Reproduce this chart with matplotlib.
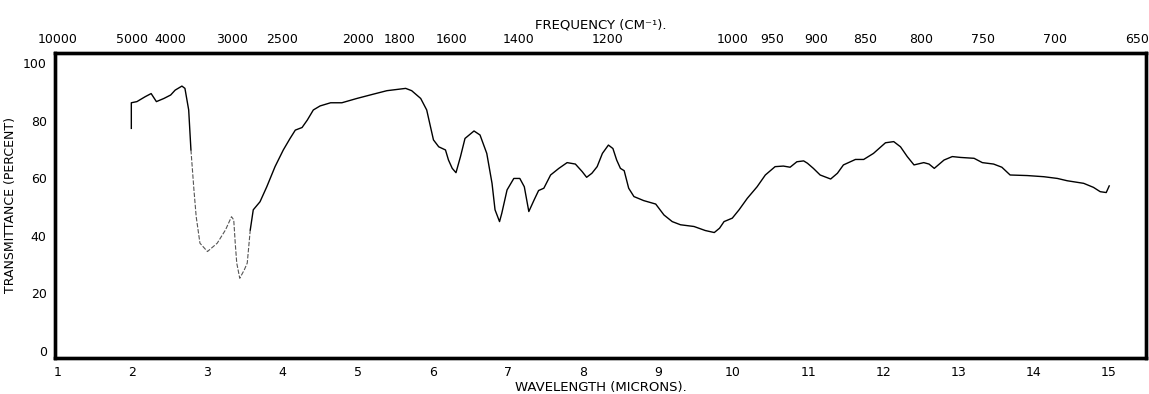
import matplotlib
matplotlib.use("Agg")
import matplotlib.pyplot as plt

# Wavelength (microns) and transmittance (percent)
wavelength = [1.986, 1.986, 2.06, 2.17, 2.25, 2.32, 2.42, 2.51, 2.57, 2.66, 2.70,
              2.75, 2.78, 2.82, 2.85, 2.90, 3.00, 3.13, 3.24, 3.32, 3.35, 3.37,
              3.39, 3.43, 3.49, 3.53, 3.57, 3.61, 3.70, 3.79, 3.90, 4.01, 4.10,
              4.17, 4.26, 4.33, 4.41, 4.50, 4.64, 4.79, 4.99, 5.21, 5.39, 5.64,
              5.72, 5.84, 5.92, 5.97, 6.01, 6.08, 6.17, 6.21, 6.26, 6.31, 6.37,
              6.43, 6.55, 6.63, 6.72, 6.79, 6.83, 6.89, 6.92, 6.99, 7.08, 7.16,
              7.22, 7.28, 7.35, 7.41, 7.48, 7.57, 7.68, 7.79, 7.90, 7.99, 8.05,
              8.12, 8.19, 8.26, 8.34, 8.40, 8.45, 8.50, 8.55, 8.61, 8.68, 8.81,
              8.97, 9.08, 9.19, 9.30, 9.48, 9.63, 9.75, 9.82, 9.88, 9.99, 10.08,
              10.19, 10.32, 10.43, 10.56, 10.67, 10.76, 10.85, 10.94, 10.99,
              11.07, 11.16, 11.30, 11.39, 11.47, 11.63, 11.74, 11.87, 12.03,
              12.14, 12.23, 12.32, 12.41, 12.54, 12.61, 12.68, 12.81, 12.92,
              13.03, 13.21, 13.32, 13.47, 13.58, 13.69, 13.92, 14.14, 14.32,
              14.45, 14.67, 14.80, 14.89, 14.97, 15.01]
transmittance = [77.3, 86.2, 86.6, 88.3, 89.4, 86.6, 87.7, 88.9, 90.6, 92.0, 91.2,
                 83.7, 69.8, 55.9, 46.6, 37.4, 34.5, 37.4, 42.0, 46.6, 45.5, 37.4,
                 30.5, 25.2, 28.1, 30.5, 42.0, 49.0, 51.8, 57.0, 64.0, 69.8, 73.8,
                 76.7, 77.6, 80.2, 83.7, 85.1, 86.2, 86.2, 87.7, 89.2, 90.4, 91.2,
                 90.4, 87.7, 83.7, 77.9, 73.3, 70.9, 69.8, 66.3, 63.4, 61.9, 67.5,
                 73.8, 76.4, 75.0, 68.6, 58.2, 49.0, 44.9, 47.8, 55.9, 59.9, 59.9,
                 57.0, 48.4, 52.4, 55.7, 56.5, 61.1, 63.4, 65.4, 64.9, 62.3, 60.3,
                 61.7, 64.0, 68.6, 71.5, 70.3, 66.3, 63.4, 62.6, 56.5, 53.6, 52.2,
                 51.0, 47.2, 44.9, 43.8, 43.2, 41.8, 41.1, 42.6, 44.9, 46.1, 49.0,
                 53.0, 57.0, 61.1, 64.0, 64.2, 63.8, 65.7, 66.0, 65.2,
                 63.4, 61.1, 59.7, 61.7, 64.6, 66.5, 66.5, 68.6, 72.3,
                 72.7, 70.9, 67.5, 64.6, 65.4, 64.9, 63.4, 66.3, 67.5,
                 67.2, 66.9, 65.4, 64.9, 63.8, 61.1, 60.9, 60.5, 59.9,
                 59.1, 58.2, 56.8, 55.3, 55.0, 57.3]

# faint (poorly inked) stretch of the trace, in microns
faint_range = (2.78, 3.57)

wavelength_ticks = list(range(1, 16))
frequency_ticks = [10000, 5000, 4000, 3000, 2500, 2000, 1800, 1600, 1400, 1200,
                   1000, 950, 900, 850, 800, 750, 700, 650]
y_ticks = [0, 20, 40, 60, 80, 100]

plt.rcParams['font.family'] = ['DejaVu Sans']

fig = plt.figure(figsize=(11.49, 3.94), dpi=100)
ax = fig.add_axes([0.0479, 0.0914, 0.9495, 0.7741])

lo, hi = faint_range
pre_x = [w for w in wavelength if w <= lo]
pre_y = [t for w, t in zip(wavelength, transmittance) if w <= lo]
mid_x = [w for w in wavelength if lo <= w <= hi]
mid_y = [t for w, t in zip(wavelength, transmittance) if lo <= w <= hi]
post_x = [w for w in wavelength if w >= hi]
post_y = [t for w, t in zip(wavelength, transmittance) if w >= hi]
ax.plot(pre_x, pre_y, color='black', lw=1.0)
ax.plot(mid_x, mid_y, color='#555555', lw=0.8, ls=(0, (4, 1.5)))
ax.plot(post_x, post_y, color='black', lw=1.0)

ax.set_xlim(0.97, 15.5)
ax.set_ylim(-2.5, 103.5)
ax.set_xticks(wavelength_ticks)
ax.set_xticklabels([str(v) for v in wavelength_ticks])
ax.set_yticks(y_ticks)
ax.set_yticklabels([str(v) for v in y_ticks])
ax.tick_params(axis='both', length=0, labelsize=9, pad=6)
ax.set_xlabel('WAVELENGTH (MICRONS).', fontsize=9.5, labelpad=1)
ax.set_ylabel('TRANSMITTANCE (PERCENT)', fontsize=9, labelpad=4)
for s in ax.spines.values():
    s.set_linewidth(2.4)
    s.set_color('black')

ax2 = ax.twiny()
ax2.set_xlim(ax.get_xlim())
ax2.set_xticks([10000.0 / f for f in frequency_ticks])
ax2.set_xticklabels([str(f) for f in frequency_ticks])
ax2.tick_params(axis='x', length=0, labelsize=9, pad=5)
ax2.set_xlabel('FREQUENCY (CM⁻¹).', fontsize=9.5, labelpad=3)
for s in ax2.spines.values():
    s.set_linewidth(2.4)

fig.savefig('out.png', dpi=100)
